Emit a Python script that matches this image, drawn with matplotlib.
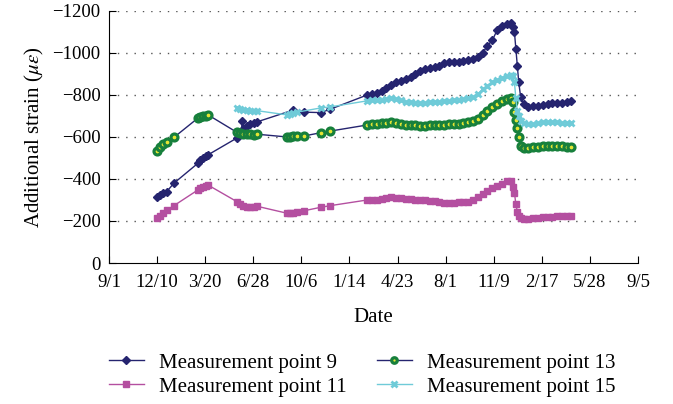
import matplotlib
matplotlib.use("Agg")
import matplotlib.pyplot as plt
import pandas as pd

plt.rcParams["font.family"] = ["Liberation Serif", "DejaVu Serif"]
plt.rcParams["mathtext.fontset"] = "stix"

# tramo continuo (lecturas diarias, feb 2012 - abr 2013), comun a los 4 puntos
fechas_continuo = ["2012-02-20", "2012-03-01", "2012-03-11", "2012-03-21", "2012-03-31",
                   "2012-04-10", "2012-04-20", "2012-04-30", "2012-05-10", "2012-05-20",
                   "2012-05-30", "2012-06-09", "2012-06-19", "2012-06-29", "2012-07-09",
                   "2012-07-19", "2012-07-29", "2012-08-08", "2012-08-18", "2012-08-28",
                   "2012-09-07", "2012-09-17", "2012-09-27", "2012-10-07", "2012-10-17",
                   "2012-10-27", "2012-11-06", "2012-11-16", "2012-11-26", "2012-12-06",
                   "2012-12-14", "2012-12-19", "2012-12-22", "2012-12-25", "2012-12-28",
                   "2012-12-31", "2013-01-04", "2013-01-10", "2013-01-20", "2013-01-30",
                   "2013-02-09", "2013-02-19", "2013-03-01", "2013-03-11", "2013-03-21",
                   "2013-03-31", "2013-04-10", "2013-04-18"]

# Measurement point 9
fechas_9 = ["2010-12-09", "2010-12-16", "2010-12-23", "2010-12-30", "2011-01-14",
            "2011-03-05", "2011-03-10", "2011-03-16", "2011-03-21", "2011-03-26",
            "2011-05-25", "2011-06-03", "2011-06-05", "2011-06-07", "2011-06-14",
            "2011-06-22", "2011-06-29", "2011-07-06", "2011-09-19", "2011-10-12",
            "2011-11-15", "2011-12-05"]
mp_9 = [-315, -325, -335, -340, -380,
        -475, -490, -500, -510, -515,
        -595, -620, -675, -640, -652,
        -662, -668, -672, -728, -718,
        -716, -732]
mp_9_continuo = [-800, -803, -810, -818, -832, -846, -860, -868, -877, -887,
                 -900, -912, -922, -928, -934, -940, -950, -957, -959, -959,
                 -960, -965, -970, -980, -1000, -1035, -1060, -1108, -1130, -1140,
                 -1144, -1125, -1100, -1020, -940, -860, -790, -755, -743, -745,
                 -749, -752, -756, -760, -762, -764, -766, -770]

# Measurement point 11
fechas_11 = ["2010-12-09", "2010-12-16", "2010-12-23", "2010-12-30", "2011-01-14",
             "2011-03-05", "2011-03-10", "2011-03-16", "2011-03-21", "2011-03-26",
             "2011-05-25", "2011-06-01", "2011-06-07", "2011-06-14", "2011-06-22",
             "2011-06-29", "2011-07-06", "2011-09-06", "2011-09-13", "2011-09-19",
             "2011-09-27", "2011-10-12", "2011-11-15", "2011-12-05"]
mp_11 = [-212, -225, -240, -252, -273,
         -348, -355, -362, -368, -371,
         -292, -280, -270, -268, -268,
         -268, -270, -237, -238, -240,
         -245, -249, -265, -273]
mp_11_continuo = [-300, -301, -302, -304, -310, -315, -311, -308, -305, -304,
                  -302, -301, -300, -297, -294, -292, -288, -284, -286, -290,
                  -290, -292, -300, -315, -330, -342, -355, -367, -378, -388,
                  -390, -360, -335, -280, -245, -222, -212, -210, -209, -212,
                  -216, -220, -221, -221, -222, -223, -224, -225]

# Measurement point 13
fechas_13 = ["2010-12-09", "2010-12-16", "2010-12-23", "2010-12-30", "2011-01-14",
             "2011-03-05", "2011-03-10", "2011-03-16", "2011-03-21", "2011-03-26",
             "2011-05-25", "2011-06-01", "2011-06-07", "2011-06-14", "2011-06-22",
             "2011-06-29", "2011-07-06", "2011-09-06", "2011-09-13", "2011-09-19",
             "2011-09-27", "2011-10-12", "2011-11-15", "2011-12-05"]
mp_13 = [-535, -550, -565, -578, -598,
         -690, -695, -698, -700, -705,
         -622, -618, -615, -613, -612,
         -610, -613, -600, -602, -605,
         -605, -605, -620, -628]
mp_13_continuo = [-657, -660, -663, -665, -668, -673, -668, -662, -658, -657,
                  -655, -653, -653, -655, -656, -657, -658, -660, -661, -663,
                  -665, -670, -675, -685, -705, -725, -742, -755, -770, -781,
                  -784, -765, -720, -680, -642, -598, -556, -547, -546, -550,
                  -554, -558, -558, -557, -557, -555, -553, -550]

# Measurement point 15
fechas_15 = ["2011-05-25", "2011-06-01", "2011-06-07", "2011-06-14", "2011-06-22",
             "2011-06-29", "2011-07-06", "2011-09-06", "2011-09-13", "2011-09-19",
             "2011-09-27", "2011-11-15", "2011-12-05"]
mp_15 = [-737, -733, -728, -726, -724,
         -723, -725, -705, -710, -714,
         -718, -738, -743]
mp_15_continuo = [-772, -774, -776, -778, -780, -786, -780, -774, -768, -766,
                  -764, -762, -762, -765, -767, -768, -769, -770, -774, -778,
                  -783, -786, -790, -805, -828, -842, -862, -872, -880, -890,
                  -895, -888, -860, -785, -725, -700, -675, -665, -660, -663,
                  -668, -670, -670, -672, -670, -668, -666, -665]

etiquetas_x = ["9/1", "12/10", "3/20", "6/28", "10/6", "1/14",
               "4/23", "8/1", "11/9", "2/17", "5/28", "9/5"]
ticks_y = [0, -200, -400, -600, -800, -1000, -1200]

azul = "#25246f"
magenta = "#b44fa0"
verde = "#17803c"
cian = "#6fcbd8"
amarillo = "#e6e633"


def serie(fechas, valores):
    return pd.to_datetime(fechas + fechas_continuo), valores


fig = plt.figure(figsize=(6.73, 4.04), dpi=100)
ax = fig.add_axes([0.162, 0.349, 0.786, 0.624])

x, y = serie(fechas_9, mp_9 + mp_9_continuo)
l9, = ax.plot(x, y, color=azul, lw=1.0, marker="D", ms=4.5, mfc=azul, mec=azul)
x, y = serie(fechas_11, mp_11 + mp_11_continuo)
l11, = ax.plot(x, y, color=magenta, lw=1.0, marker="s", ms=5, mfc=magenta, mec=magenta)
x, y = serie(fechas_13, mp_13 + mp_13_continuo)
l13, = ax.plot(x, y, color=azul, lw=1.0, marker="o", ms=5, mfc=amarillo,
               mec=verde, mew=2.3)
x, y = serie(fechas_15, mp_15 + mp_15_continuo)
l15, = ax.plot(x, y, color=cian, lw=1.0, marker="x", ms=5, mec=cian, mew=2.0)

inicio = pd.Timestamp("2010-09-01")
posiciones = [inicio + pd.Timedelta(days=100 * i) for i in range(len(etiquetas_x))]
ax.set_xticks(posiciones)
ax.set_xticklabels(etiquetas_x)
ax.set_xlim(posiciones[0], posiciones[-1])

ax.set_yticks(ticks_y)
ax.set_yticklabels([str(v).replace("-", "\u2212") for v in ticks_y])
ax.set_ylim(0, -1200)

for v in ticks_y[1:]:
    ax.axhline(v, color="#555555", lw=1.0, ls=(0, (1, 5)), zorder=0)

ax.spines["top"].set_visible(False)
ax.spines["right"].set_visible(False)
ax.tick_params(direction="in", labelsize=13.5, length=5)
ax.tick_params(axis="x", pad=8)
ax.tick_params(axis="y", pad=6)

ax.set_xlabel("Date", fontsize=15, labelpad=12)
ax.set_ylabel(r"Additional strain ($\mu\varepsilon$)", fontsize=15, labelpad=5)

fig.legend([l9, l11, l13, l15],
           ["Measurement point 9", "Measurement point 11",
            "Measurement point 13", "Measurement point 15"],
           ncol=2, frameon=False, fontsize=15, loc="center left",
           bbox_to_anchor=(0.140, 0.072), columnspacing=1.45,
           handlelength=1.68, handletextpad=0.72, labelspacing=0.22,
           borderpad=0.2, markerscale=0.8)

plt.savefig("out.png", dpi=100)
